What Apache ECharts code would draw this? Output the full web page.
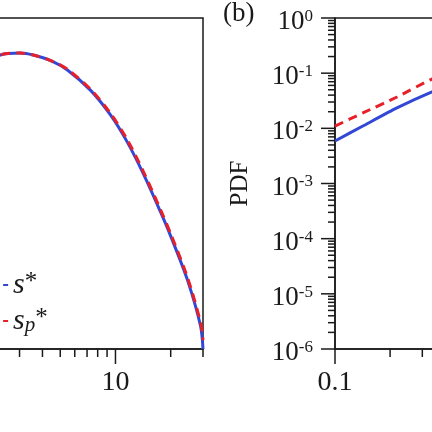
<!DOCTYPE html>
<html><head><meta charset="utf-8">
<script src="https://cdn.jsdelivr.net/npm/echarts@6/dist/echarts.min.js"></script>
<style>html,body{margin:0;padding:0;background:#fff}#c{width:432px;height:432px}</style>
</head><body><div id="c"></div>
<script>
// ---- Panel (a): speed distribution, log x, linear y (y labels lie outside the crop)
const leftX     = [1.0, 1.5, 2.0, 2.35, 3.03, 3.56, 4.5, 5.47, 7.30, 9.39, 11.6, 14.2, 17.6, 20.0, 24.7, 29.1, 30];
const leftSStar = [0.60, 0.78, 0.86, 0.888, 0.894, 0.888, 0.870, 0.843, 0.782, 0.707, 0.625, 0.529, 0.414, 0.341, 0.208, 0.069, 0.0];
const leftSpStar= [0.60, 0.78, 0.86, 0.888, 0.894, 0.888, 0.870, 0.845, 0.785, 0.712, 0.632, 0.536, 0.421, 0.348, 0.216, 0.080, 0.027];
// ---- Panel (b): PDF, log-log
const rightX     = [0.1, 0.142, 0.218, 0.339, 0.5, 0.7, 1.0];
const rightSStar = [0.0059, 0.0110, 0.0234, 0.0456, 0.075, 0.10, 0.13];
const rightSpStar= [0.0110, 0.0190, 0.0370, 0.0784, 0.13, 0.17, 0.20];
// ---- tick values
const leftXMajor  = [1, 10];
const leftXMinor  = [2, 3, 4, 5, 6, 7, 8, 9, 20, 30];
const rightXMajor = [0.1, 1, 10];
const rightXMinor = [0.2, 0.3, 0.4, 0.5, 0.6, 0.7, 0.8, 0.9, 2, 3, 4, 5, 6, 7, 8, 9];
const rightYMajor = [1e-6, 1e-5, 1e-4, 1e-3, 1e-2, 1e-1, 1];
const rightYMinor = [];
for (let e = -6; e < 0; e++) for (let k = 2; k <= 9; k++) rightYMinor.push(k * Math.pow(10, e));

const F = 'Liberation Serif';
const INK = '#1a1a1a';
const BLUE = '#3347d6';
const RED = '#e8202a';

function zip(a, b) { return a.map((v, i) => [v, b[i]]); }
function tickRender(len, dir) {
  return function (params, api) {
    const p = api.coord([api.value(0), api.value(1)]);
    const s = { stroke: INK, lineWidth: 1.5 };
    if (dir === 'x') return { type: 'line', shape: { x1: p[0], y1: p[1], x2: p[0], y2: p[1] + len }, style: s };
    return { type: 'line', shape: { x1: p[0] - len, y1: p[1], x2: p[0], y2: p[1] }, style: s };
  };
}
function tickSeries(name, xi, yi, data, len, dir) {
  return { name: name, type: 'custom', xAxisIndex: xi, yAxisIndex: yi, silent: true, z: 5, clip: false,
    renderItem: tickRender(len, dir), data: data };
}
function decadeLabel(v) {
  const l = Math.log10(v);
  if (Math.abs(l - Math.round(l)) > 1e-6) return '';
  return String(+v.toPrecision(3));
}

const chart = echarts.init(document.getElementById('c'), null, { renderer: 'canvas' });
const axisLine = { show: true, lineStyle: { color: INK, width: 1.5 } };
chart.setOption({
  animation: false,
  backgroundColor: '#fff',
  grid: [
    { left: -68, top: 18, width: 271, height: 331, show: true, borderColor: INK, borderWidth: 1.5, outerBoundsMode: 'none', containLabel: false },
    { left: 335, top: 18, width: 549, height: 331, show: true, borderColor: INK, borderWidth: 1.5, outerBoundsMode: 'none', containLabel: false }
  ],
  xAxis: [
    { type: 'log', logBase: 10, min: 1, max: 30, gridIndex: 0, axisLine: axisLine, axisTick: { show: false },
      splitLine: { show: false }, axisLabel: { formatter: decadeLabel, fontFamily: F, fontSize: 28, color: INK, margin: 20 } },
    { type: 'log', logBase: 10, min: 0.1, max: 100, gridIndex: 1, axisLine: axisLine, axisTick: { show: false },
      splitLine: { show: false }, axisLabel: { formatter: decadeLabel, fontFamily: F, fontSize: 28, color: INK, margin: 20 } }
  ],
  yAxis: [
    { type: 'value', min: 0, max: 1, gridIndex: 0, axisLine: axisLine, axisTick: { show: false },
      splitLine: { show: false }, axisLabel: { show: false } },
    { type: 'log', logBase: 10, min: 1e-6, max: 1, gridIndex: 1, axisLine: axisLine, axisTick: { show: false },
      splitLine: { show: false },
      name: 'PDF', nameLocation: 'middle', nameGap: 82, nameRotate: 90,
      nameTextStyle: { fontFamily: F, fontSize: 25, color: INK },
      axisLabel: {
        margin: 22, color: INK,
        formatter: function (v) { const e = Math.round(Math.log10(v)); return '{b|10}{e|' + e + '}'; },
        rich: {
          b: { fontFamily: F, fontSize: 27, color: INK, lineHeight: 26, padding: [8, 0, 0, 0] },
          e: { fontFamily: F, fontSize: 17, color: INK, verticalAlign: 'top', lineHeight: 17, padding: [3, 0, 0, 0] }
        }
      } }
  ],
  legend: {
    orient: 'vertical', left: 0, top: 270, itemWidth: 5, itemHeight: 14, itemGap: 6,
    padding: 0,
    itemStyle: { opacity: 0 },
    data: ['s*', 'sp*'],
    formatter: function (n) { return n === 's*' ? '{s|s}{sup|*}' : '{s|s}{sub|p}{sup|*}'; },
    textStyle: {
      color: INK,
      rich: {
        s: { fontFamily: F, fontStyle: 'italic', fontSize: 30, color: INK },
        sub: { fontFamily: F, fontStyle: 'italic', fontSize: 21, color: INK, verticalAlign: 'bottom', lineHeight: 30 },
        sup: { fontFamily: F, fontSize: 25, color: INK, verticalAlign: 'top', lineHeight: 30 }
      }
    }
  },
  graphic: [
    { type: 'text', left: 223, top: 0, style: { text: '(b)', fontFamily: F, fontSize: 27, fill: INK } }
  ],
  series: [
    { name: 's*', type: 'line', xAxisIndex: 0, yAxisIndex: 0, data: zip(leftX, leftSStar), smooth: 0.3,
      showSymbol: false, symbol: 'none', lineStyle: { color: BLUE, width: 3 }, itemStyle: { color: BLUE }, z: 3 },
    { name: 'sp*', type: 'line', xAxisIndex: 0, yAxisIndex: 0, data: zip(leftX, leftSpStar), smooth: 0.3,
      showSymbol: false, symbol: 'none', lineStyle: { color: RED, width: 3, type: [9, 6] }, itemStyle: { color: RED }, z: 4 },
    { name: 's*', type: 'line', xAxisIndex: 1, yAxisIndex: 1, data: zip(rightX, rightSStar), smooth: 0.2,
      showSymbol: false, symbol: 'none', lineStyle: { color: BLUE, width: 3 }, itemStyle: { color: BLUE }, z: 3 },
    { name: 'sp*', type: 'line', xAxisIndex: 1, yAxisIndex: 1, data: zip(rightX, rightSpStar), smooth: 0.2,
      showSymbol: false, symbol: 'none', lineStyle: { color: RED, width: 3, type: [9, 6] }, itemStyle: { color: RED }, z: 4 },
    tickSeries('tick-a-x-major', 0, 0, leftXMajor.map(v => [v, 0]), 15, 'x'),
    tickSeries('tick-a-x-minor', 0, 0, leftXMinor.map(v => [v, 0]), 8, 'x'),
    tickSeries('tick-b-x-major', 1, 1, rightXMajor.map(v => [v, 1e-6]), 15, 'x'),
    tickSeries('tick-b-x-minor', 1, 1, rightXMinor.map(v => [v, 1e-6]), 8, 'x'),
    tickSeries('tick-b-y-major', 1, 1, rightYMajor.map(v => [0.1, v]), 14, 'y'),
    tickSeries('tick-b-y-minor', 1, 1, rightYMinor.map(v => [0.1, v]), 7, 'y')
  ]
});
</script></body></html>
